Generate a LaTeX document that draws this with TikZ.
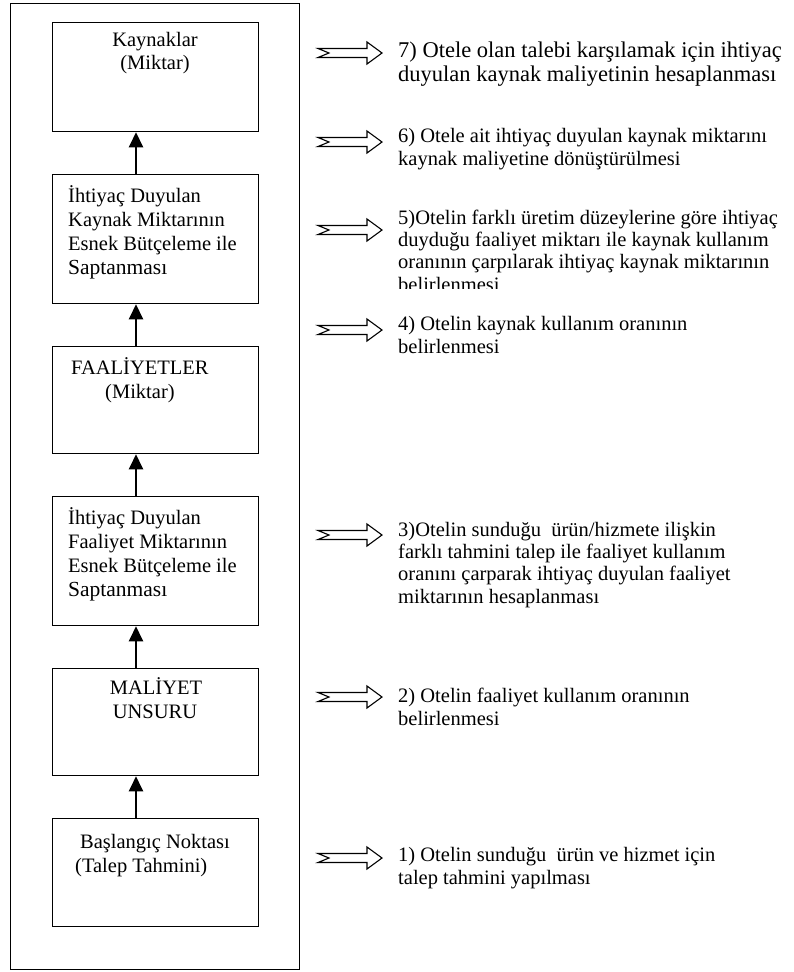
\documentclass[tikz,border=0pt]{standalone}
\usepackage{fontspec}
\setmainfont{Liberation Serif}
\usetikzlibrary{arrows.meta,positioning}

\begin{document}
\begin{tikzpicture}[
            x=1pt, y=-1pt,
            >={Triangle[width=14pt,length=15pt]},
            box/.style={draw, line width=1.3pt, minimum width=206pt, inner sep=0pt, anchor=north west},
            lbl/.style={font=\fontsize{20.5}{24}\selectfont, inner sep=0pt, align=left},
            note/.style={font=\fontsize{20.5}{22.3}\selectfont, inner sep=0pt, anchor=base west, align=left},
            up/.style={->, line width=2.6pt},
            notcharrow/.pic={\draw[line width=1.1pt] (0,-4.5) -- (49,-4.5) -- (49,-11) -- (64,0) -- (49,11) -- (49,4.5) -- (0,4.5) -- (11,0) -- cycle;}
        ]
        \useasboundingbox (0,0) rectangle (794,972);

        %================================================
        % Left column: frame and boxes
        %================================================
        \node[box, minimum width=289pt, minimum height=966pt] (frame) at (10,3) {};

        \node[box, minimum height=109pt] (b1) at (52,22) {};
        \node[box, minimum height=129pt] (b2) at (52,174) {};
        \node[box, minimum height=107pt] (b3) at (52,346) {};
        \node[box, minimum height=129pt] (b4) at (52,496) {};
        \node[box, minimum height=107pt] (b5) at (52,668) {};
        \node[box, minimum height=108pt] (b6) at (52,818) {};

        % multi-line nodes sit on the baseline of their last line
        \node[lbl, anchor=base] (t1a) at (155,46) {Kaynaklar};
        \node[lbl, anchor=base] (t1b) at (155,69) {(Miktar)};
        \node[lbl, anchor=base west] (t2) at (68,274) {İhtiyaç Duyulan\\Kaynak Miktarının\\Esnek Bütçeleme ile\\{\fontsize{21.5}{24}\selectfont Saptanması}};
        \node[lbl, anchor=base west] (t3a) at (71,374) {FAALİYETLER};
        \node[lbl, anchor=base west] (t3b) at (105,398) {(Miktar)};
        \node[lbl, anchor=base west] (t4) at (68,596) {İhtiyaç Duyulan\\Faaliyet Miktarının\\Esnek Bütçeleme ile\\{\fontsize{21.5}{24}\selectfont Saptanması}};
        \node[lbl, anchor=base] (t5a) at (156,694) {MALİYET};
        \node[lbl, anchor=base] (t5b) at (155,718) {UNSURU};
        \node[lbl, anchor=base] (t6a) at (155,848) {Başlangıç Noktası};
        \node[lbl, anchor=base west] (t6b) at (75,872) {(Talep Tahmini)};

        %================================================
        % Upward arrows between boxes
        %================================================
        \coordinate (ax) at (136,0);
        \draw[up] (b2.north -| ax) -- (b1.south -| ax);
        \draw[up] (b3.north -| ax) -- (b2.south -| ax);
        \draw[up] (b4.north -| ax) -- (b3.south -| ax);
        \draw[up] (b5.north -| ax) -- (b4.south -| ax);
        \draw[up] (b6.north -| ax) -- (b5.south -| ax);

        %================================================
        % Right column: steps
        %================================================
        \pic at (318,53) {notcharrow};
        \node[note, font=\fontsize{22.5}{24}\selectfont] (s7) at (398,81) {7) Otele olan talebi karşılamak için ihtiyaç\\duyulan kaynak maliyetinin hesaplanması};

        \pic at (318,142) {notcharrow};
        \node[note] (s6) at (398,165) {6) Otele ait ihtiyaç duyulan kaynak miktarını\\kaynak maliyetine dönüştürülmesi};

        \pic at (318,230) {notcharrow};
        \begin{scope}
            \clip (390,200) rectangle (794,288);
            \node[note] (s5) at (398,291) {5)Otelin farklı üretim düzeylerine göre ihtiyaç\\duyduğu faaliyet miktarı ile kaynak kullanım\\oranının çarpılarak ihtiyaç kaynak miktarının\\belirlenmesi};
        \end{scope}

        \pic at (318,330) {notcharrow};
        \node[note] (s4) at (398,353) {4) Otelin kaynak kullanım oranının\\belirlenmesi};

        \pic at (318,535) {notcharrow};
        \node[note] (s3) at (398,603) {3)Otelin sunduğu~ ürün/hizmete ilişkin\\farklı tahmini talep ile faaliyet kullanım\\oranını çarparak ihtiyaç duyulan faaliyet\\miktarının hesaplanması};

        \pic at (318,697) {notcharrow};
        \node[note] (s2) at (398,725) {2) Otelin faaliyet kullanım oranının\\belirlenmesi};

        \pic at (318,858) {notcharrow};
        \node[note] (s1) at (398,884) {1) Otelin sunduğu~ ürün ve hizmet için\\talep tahmini yapılması};

\end{tikzpicture}
\end{document}
